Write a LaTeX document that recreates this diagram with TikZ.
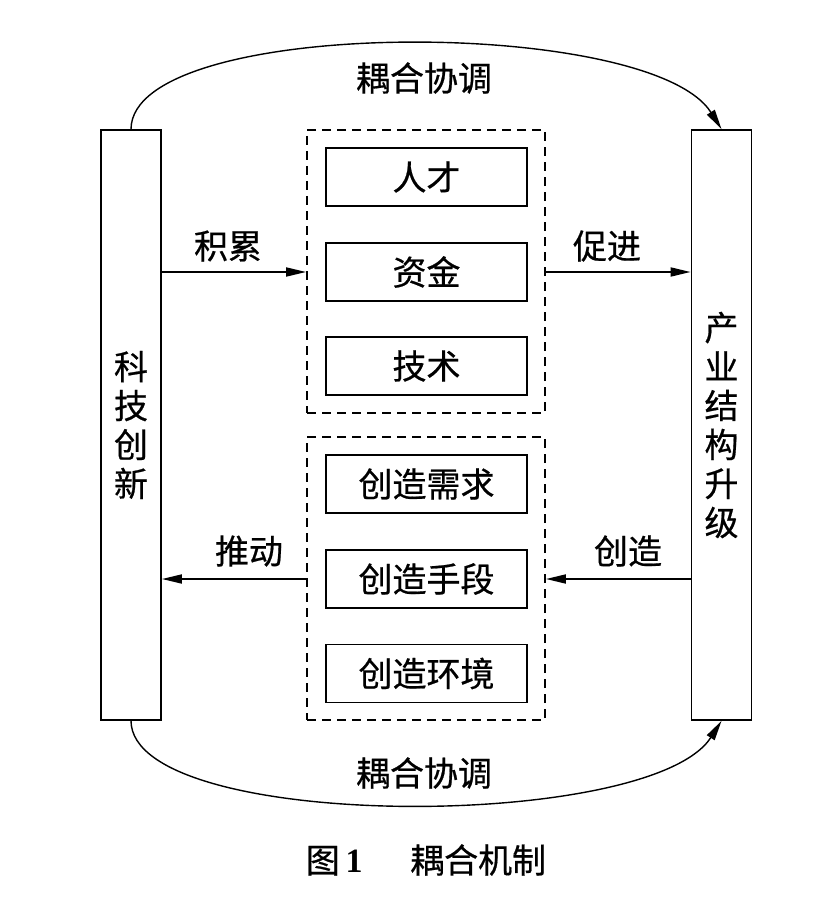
\documentclass[tikz,border=0pt]{standalone}
\usepackage{fontspec}
\setmainfont{Noto Sans CJK SC}[FakeBold=0.6]
\newfontfamily\latin{Liberation Serif}
\usetikzlibrary{arrows.meta}

\begin{document}
\begin{tikzpicture}[x=1pt,y=-1pt,line width=1.8pt,
    arr/.style={-{Triangle[length=20pt,width=9pt]}},
    lbl/.style={inner sep=0pt,font=\fontsize{34}{40}\selectfont}]
    \tikzstyle{item}=[draw,minimum width=201pt,minimum height=58pt,inner sep=0pt,font=\fontsize{34}{40}\selectfont]
    \tikzstyle{side}=[draw,minimum width=60pt,minimum height=590pt,inner sep=0pt,align=center,font=\fontsize{34}{39}\selectfont]
    \tikzstyle{group}=[draw,dash pattern=on 9pt off 6pt,minimum width=238pt,minimum height=283pt,inner sep=0pt]

    \useasboundingbox (0,0) rectangle (825,920);

    \node[side] (kj) at (131,425) {科\\技\\创\\新};
    \node[side] (cy) at (721.5,425) {产\\业\\结\\构\\升\\级};

    \node[group] (up) at (426,271.5) {};
    \node[group] (low) at (426,578.5) {};

    \node[item] (rc) at (426.5,177) {人才};
    \node[item] (zj) at (426.5,272) {资金};
    \node[item] (js) at (426.5,366) {技术};
    \node[item] (xq) at (426.5,484) {创造需求};
    \node[item] (sd) at (426.5,579) {创造手段};
    \node[item] (hj) at (426.5,673.5) {创造环境};

    \draw[arr] (kj.east |- zj) -- (up.west |- zj);
    \draw[arr] (up.east |- zj) -- (cy.west |- zj);
    \draw[arr] (low.west |- sd) -- (kj.east |- sd);
    \draw[arr] (cy.west |- sd) -- (low.east |- sd);
    \node[lbl] (jl) at (228,246) {积累};
    \node[lbl] (cj) at (607,246) {促进};
    \node[lbl] (td) at (249,551) {推动};
    \node[lbl] (cz) at (628,551) {创造};

    % coupling arcs
    \draw[arr,line width=1.4pt] (kj.north) .. controls (132,16) and (650,16) .. (cy.north);
    \draw[arr,line width=1.4pt] (kj.south) .. controls (132,832) and (650,832) .. (cy.south);
    \node[lbl] (top) at (424,78) {耦合协调};
    \node[lbl] (bot) at (424,773) {耦合协调};

    \node[lbl] (cap) at (426,860) {图\,{\latin\bfseries 1}\hspace{1.4em}耦合机制};

  \end{tikzpicture}
\end{document}
